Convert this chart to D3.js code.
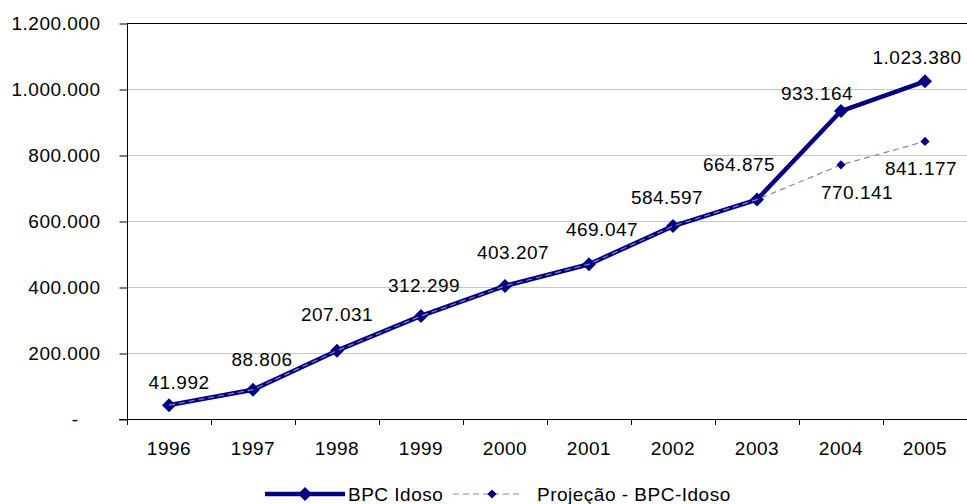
<!DOCTYPE html>
<html>
<head>
<meta charset="utf-8">
<script src="https://cdn.jsdelivr.net/npm/d3@7"></script>
<style>
  html, body { margin: 0; padding: 0; background: #fff; }
  svg { display: block; }
  text { font-family: "Liberation Sans", Arial, sans-serif; fill: #000; }
</style>
</head>
<body>
<svg id="chart" width="967" height="504"></svg>
<script>
// Beneficiários do BPC Idoso, 1996–2005, and the projected trend
const years = ["1996", "1997", "1998", "1999", "2000", "2001", "2002", "2003", "2004", "2005"];
const bpcIdoso = [41992, 88806, 207031, 312299, 403207, 469047, 584597, 664875, 933164, 1023380];
const projecao = [41992, 88806, 207031, 312299, 403207, 469047, 584597, 664875, 770141, 841177];
const yTicks = [0, 200000, 400000, 600000, 800000, 1000000, 1200000];
const seriesNames = ["BPC Idoso", "Projeção - BPC-Idoso"];

// label nudges (px) so the value labels sit clear of the lines
const mainLabelNudge = [[10, -23], [9, -30], [0, -36], [3, -31], [8, -34], [13, -35], [-6, -29], [-18, -35], [-24, -18], [-8, -24]];
const projLabelNudge = { "2004": [16, 27], "2005": [-4, 27] };

const navy = "#000080";
const dashColor = "#8484c4";
const fontSize = 19;

const svg = d3.select("#chart");
const plot = { left: 127, right: 967, top: 23, bottom: 419 };

const x = d3.scaleBand().domain(years).range([plot.left, plot.right]).padding(0);
const y = d3.scaleLinear().domain([0, 1200000]).range([plot.bottom, plot.top]);
const cx = d => x(d) + x.bandwidth() / 2;

const ptBR = d3.formatLocale({ decimal: ",", thousands: ".", grouping: [3], currency: ["R$", ""] });
const fmt = ptBR.format(",d");

// horizontal gridlines
svg.append("g")
  .selectAll("line")
  .data(yTicks.filter(t => t > 0))
  .join("line")
  .attr("x1", plot.left).attr("x2", plot.right)
  .attr("y1", d => Math.round(y(d)) + 0.5).attr("y2", d => Math.round(y(d)) + 0.5)
  .attr("stroke", d => d === 1200000 ? "#000" : "#c8c8c8")
  .attr("stroke-width", 1);

// y axis
const yAxis = d3.axisLeft(y)
  .tickValues(yTicks)
  .tickSize(8)
  .tickPadding(19)
  .tickFormat(d => d === 0 ? "-" : fmt(d));
const gy = svg.append("g").attr("transform", `translate(${plot.left + 0.5},0.5)`).call(yAxis);
gy.select(".domain").attr("stroke", "#000").attr("d", `M0,${plot.top}V${plot.bottom}`);
gy.selectAll(".tick line").attr("stroke", "#000");
gy.selectAll(".tick text")
  .style("font-size", fontSize + "px")
  .style("letter-spacing", "0.5px")
  .attr("fill", "#000")
  .attr("dx", d => d === 0 ? -22 : 0);

// x axis (ticks on the category boundaries)
svg.append("line")
  .attr("x1", plot.left - 8).attr("x2", plot.right)
  .attr("y1", plot.bottom + 0.5).attr("y2", plot.bottom + 0.5)
  .attr("stroke", "#000");
svg.append("g")
  .selectAll("line")
  .data(years.concat(["end"]))
  .join("line")
  .attr("x1", (d, i) => Math.round(plot.left + i * x.bandwidth()) + 0.5)
  .attr("x2", (d, i) => Math.round(plot.left + i * x.bandwidth()) + 0.5)
  .attr("y1", plot.bottom).attr("y2", plot.bottom + 6)
  .attr("stroke", "#000");
svg.append("g")
  .selectAll("text")
  .data(years)
  .join("text")
  .attr("x", d => cx(d))
  .attr("y", 448)
  .attr("dy", "0.35em")
  .attr("text-anchor", "middle")
  .style("font-size", fontSize + "px")
  .style("letter-spacing", "0.5px")
  .text(d => d);

const mainData = years.map((yr, i) => ({ year: yr, value: bpcIdoso[i], i }));
const projData = years.map((yr, i) => ({ year: yr, value: projecao[i], i }));

const line = d3.line().x(d => cx(d.year)).y(d => y(d.value));
const diamond = r => `M0,${-r}L${r},0L0,${r}L${-r},0Z`;

// main series
svg.append("path")
  .datum(mainData)
  .attr("d", line)
  .attr("fill", "none")
  .attr("stroke", navy)
  .attr("stroke-width", 4.5)
  .attr("stroke-linejoin", "round");
svg.append("g")
  .selectAll("path")
  .data(mainData)
  .join("path")
  .attr("transform", d => `translate(${cx(d.year)},${y(d.value)})`)
  .attr("d", diamond(7))
  .attr("fill", navy);

// projection series
svg.append("path")
  .datum(projData)
  .attr("d", line)
  .attr("fill", "none")
  .attr("stroke", dashColor)
  .attr("stroke-width", 1.2)
  .attr("stroke-dasharray", "6,4");
svg.append("g")
  .selectAll("path")
  .data(projData.filter(d => projLabelNudge[d.year]))
  .join("path")
  .attr("transform", d => `translate(${cx(d.year)},${y(d.value)})`)
  .attr("d", diamond(4.6))
  .attr("fill", navy);

// value labels
svg.append("g")
  .selectAll("text")
  .data(mainData)
  .join("text")
  .attr("x", d => cx(d.year) + mainLabelNudge[d.i][0])
  .attr("y", d => y(d.value) + mainLabelNudge[d.i][1])
  .attr("dy", "0.35em")
  .attr("text-anchor", "middle")
  .style("font-size", fontSize + "px")
  .style("letter-spacing", "0.5px")
  .text(d => fmt(d.value));
svg.append("g")
  .selectAll("text")
  .data(projData.filter(d => projLabelNudge[d.year]))
  .join("text")
  .attr("x", d => cx(d.year) + projLabelNudge[d.year][0])
  .attr("y", d => y(d.value) + projLabelNudge[d.year][1])
  .attr("dy", "0.35em")
  .attr("text-anchor", "middle")
  .style("font-size", fontSize + "px")
  .style("letter-spacing", "0.5px")
  .text(d => fmt(d.value));

// legend
const legY = 494;
const leg = svg.append("g");
leg.append("line").attr("x1", 265).attr("x2", 345).attr("y1", legY).attr("y2", legY)
  .attr("stroke", navy).attr("stroke-width", 4.5);
leg.append("path").attr("transform", `translate(305,${legY})`).attr("d", diamond(7)).attr("fill", navy);
leg.append("text").attr("x", 348).attr("y", legY).attr("dy", "0.35em")
  .style("font-size", fontSize + "px").style("letter-spacing", "0.5px").text(seriesNames[0]);
leg.append("line").attr("x1", 453).attr("x2", 523).attr("y1", legY).attr("y2", legY)
  .attr("stroke", dashColor).attr("stroke-width", 1.2).attr("stroke-dasharray", "6,4");
leg.append("path").attr("transform", `translate(492,${legY})`).attr("d", diamond(4.6)).attr("fill", navy);
leg.append("text").attr("x", 537).attr("y", legY).attr("dy", "0.35em")
  .style("font-size", fontSize + "px").style("letter-spacing", "0.5px").text(seriesNames[1]);
</script>
</body>
</html>
